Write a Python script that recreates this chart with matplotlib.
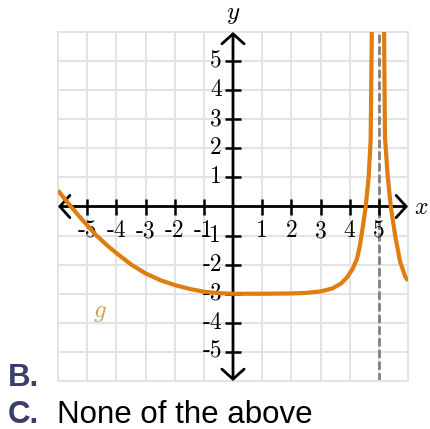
import matplotlib.pyplot as plt

plt.rcParams['mathtext.fontset'] = 'cm'

# g(x), left of the vertical asymptote
left_x = [-6.0, -5.56, -5.2, -4.7, -4.3, -4.0, -3.5, -3.0, -2.5, -2.0, -1.5, -1.0, -0.5,
          0.0, 1.0, 2.0, 2.5, 3.0, 3.4, 3.7, 3.9, 4.1, 4.25, 4.35, 4.45, 4.55,
          4.65, 4.72, 4.76]
left_y = [0.55, 0.0, -0.42, -0.98, -1.35, -1.6, -1.99, -2.3, -2.53, -2.7, -2.83, -2.93, -2.98,
          -3.0, -3.0, -2.99, -2.97, -2.92, -2.82, -2.65, -2.45, -2.15, -1.8, -1.35,
          -0.7, 0.0, 1.0, 2.3, 6.0]

# right of the asymptote
right_x = [5.18, 5.21, 5.3, 5.41, 5.56, 5.73, 5.9, 6.0]
right_y = [6.0, 2.4, 1.1, 0.0, -1.0, -1.9, -2.4, -2.55]

asymptote_x = 5
x_ticks = [-5, -4, -3, -2, -1, 1, 2, 3, 4, 5]
y_ticks = [-5, -4, -3, -2, -1, 1, 2, 3, 4, 5]

curve_color = '#e07d10'
grid_color = '#e3e3e3'

fig = plt.figure(figsize=(4.3, 4.29), dpi=100)
ax = fig.add_axes([58 / 430, 48 / 429, 350 / 430, 349 / 429])
ax.set_xlim(-6, 6)
ax.set_ylim(-6, 6)
ax.set_xticks(range(-6, 7))
ax.set_yticks(range(-6, 7))
ax.grid(color=grid_color, lw=1.4)
ax.tick_params(length=0, labelbottom=False, labelleft=False)
for s in ax.spines.values():
    s.set_color(grid_color)
    s.set_linewidth(1.4)

# coordinate axes with open arrowheads at both ends
arrow = dict(arrowstyle='<->,head_length=0.36,head_width=0.4', lw=2, color='black',
             shrinkA=0, shrinkB=0, mutation_scale=20)
ax.annotate('', xy=(6, 0), xytext=(-6, 0), arrowprops=arrow, zorder=3)
ax.annotate('', xy=(0, 6), xytext=(0, -6), arrowprops=arrow, zorder=3)

# tick crosses
ax.plot(x_ticks, [0] * len(x_ticks), ls='none', marker='|', ms=12, mew=1.8,
        color='black', zorder=3)
ax.plot([0] * len(y_ticks), y_ticks, ls='none', marker='_', ms=12, mew=1.8,
        color='black', zorder=3)

for x in x_ticks:
    ax.text(x, -0.85, str(x), fontfamily='cmr10', fontsize=17, ha='center', va='center')
for y in y_ticks:
    ax.text(-0.38, y, str(y), fontfamily='cmr10', fontsize=17, ha='right', va='center')

ax.text(0, 6.62, '$y$', fontsize=18, ha='center', va='center')
ax.text(6.46, 0, '$x$', fontsize=17, ha='center', va='center')

ax.axvline(asymptote_x, color='#808080', lw=2, dashes=(3, 1.2), zorder=2)

ax.plot(left_x, left_y, color=curve_color, lw=3, solid_capstyle='butt', zorder=4)
ax.plot(right_x, right_y, color=curve_color, lw=3, solid_capstyle='butt', zorder=4)
ax.text(-4.56, -3.63, '$g$', color='#d9a04a', fontsize=18, ha='center', va='center')

# answer choices
fig.text(8 / 430, 1 - 386 / 429, 'B.', fontfamily='Liberation Sans', weight='bold',
         color='#3b3d6b', fontsize=22.5, va='baseline')
fig.text(8 / 430, 1 - 423 / 429, 'C.', fontfamily='Liberation Sans', weight='bold',
         color='#3b3d6b', fontsize=22.5, va='baseline')
fig.text(57 / 430, 1 - 423 / 429, 'None of the above', fontfamily='Liberation Sans',
         color='black', fontsize=22.5, va='baseline')

fig.savefig('out.png', dpi=100)
